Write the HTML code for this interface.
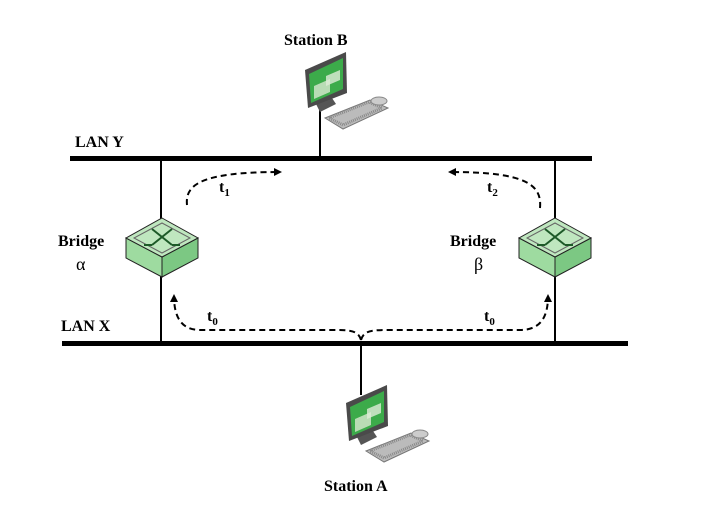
<!DOCTYPE html>
<html><head><meta charset="utf-8"><style>body{margin:0;background:#fff}svg{display:block}text{font-family:"Liberation Serif",serif;font-weight:bold;font-size:16px}</style></head><body>
<svg width="713" height="511" viewBox="0 0 713 511">
<defs>
<g id="st">
<polygon points="325,118 370,100 388,108 343,129" fill="#bbb" stroke="#777" stroke-width="1"/>
<polygon points="329,118 369,102 382,108 343,125" fill="none" stroke="#888" stroke-width="3" stroke-dasharray="1 1"/>
<ellipse cx="379" cy="101" rx="8" ry="4" fill="#ccc" stroke="#888"/>
<polygon points="316,104 332,98 336,104 320,112" fill="#555"/>
<polygon points="305,70 346,52 347,93 308,108" fill="#4a4a4a"/>
<polygon points="309,74 343,58 343,89 311,103" fill="#3cab4a"/>
<polygon points="314,86 330,79 330,92 314,99" fill="#d8e8d0" opacity=".8"/>
<polygon points="326,76 340,70 340,80 326,86" fill="#e0ecd8" opacity=".8"/>
</g>
<g id="br">
<polygon points="-36,1 0,20 0,40 -36,21" fill="#9edba0" stroke="#222"/>
<polygon points="0,20 36,1 36,21 0,40" fill="#7cc883" stroke="#222"/>
<polygon points="0,-19 36,1 0,20 -36,1" fill="#bfe7bf" stroke="#222"/>
<polygon points="0,-14 28,1 0,16 -28,1" fill="none" stroke="#666"/>
<path d="M-10,-8 L10,8 M10,-8 L-10,8 M-10,8 L-18,8 M10,8 L18,8" stroke="#1d5a28" stroke-width="2" fill="none"/>
</g>
<marker id="a" markerWidth="8" markerHeight="8" refX="6" refY="4" orient="auto" markerUnits="userSpaceOnUse"><path d="M0,0 L8,4 L0,8z" fill="#000"/></marker>
</defs>
<line x1="161" y1="158" x2="161" y2="343" stroke="#000" stroke-width="2"/>
<line x1="555" y1="158" x2="555" y2="343" stroke="#000" stroke-width="2"/>
<line x1="320" y1="108" x2="320" y2="158" stroke="#000" stroke-width="2"/>
<line x1="361" y1="343" x2="361" y2="395" stroke="#000" stroke-width="2"/>
<rect x="70" y="156" width="522" height="5" fill="#000"/>
<rect x="62" y="341" width="566" height="5" fill="#000"/>
<use href="#st"/>
<use href="#st" transform="translate(41,333)"/>
<use href="#br" transform="translate(162,237)"/>
<use href="#br" transform="translate(555,237)"/>
<g fill="none" stroke="#000" stroke-width="2" stroke-dasharray="6 4">
<path d="M187,205 C185,185 200,172 280,172" marker-end="url(#a)"/>
<path d="M540,208 C542,185 527,172 450,172" marker-end="url(#a)"/>
<path d="M361,340 C358,330 350,330 330,330 L200,330 C180,330 174,315 174,296" marker-end="url(#a)"/>
<path d="M361,340 C364,330 372,330 392,330 L520,330 C542,330 548,315 548,296" marker-end="url(#a)"/>
</g>
<text x="284" y="45">Station B</text>
<text x="324" y="491">Station A</text>
<text x="75" y="147">LAN Y</text>
<text x="61" y="331">LAN X</text>
<text x="58" y="246">Bridge</text>
<text x="76" y="270" style="font-weight:normal;font-size:18px">α</text>
<text x="450" y="246">Bridge</text>
<text x="474" y="270" style="font-weight:normal;font-size:18px">β</text>
<text x="219" y="192">t<tspan font-size="11" dy="4">1</tspan></text>
<text x="487" y="192">t<tspan font-size="11" dy="4">2</tspan></text>
<text x="207" y="321">t<tspan font-size="11" dy="4">0</tspan></text>
<text x="484" y="321">t<tspan font-size="11" dy="4">0</tspan></text>
</svg>
</body></html>
